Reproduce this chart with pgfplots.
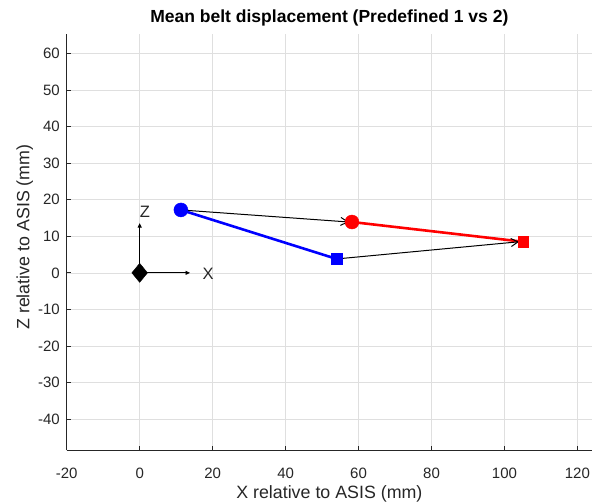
\documentclass[border=0pt]{standalone}
\usepackage{fontspec}
\setmainfont{Liberation Sans}
\usepackage{pgfplots}
\pgfplotsset{compat=1.18}
\usetikzlibrary{arrows.meta,calc}
\definecolor{axgray}{HTML}{262626}
\definecolor{gridgray}{HTML}{DFDFDF}
\definecolor{mblue}{HTML}{0000FF}
\definecolor{mred}{HTML}{FF0000}
\begin{document}
\begin{tikzpicture}
\begin{axis}[
  scale only axis,
  width=525bp, height=416bp,
  xmin=-20, xmax=124, ymin=-48.5, ymax=65.3,
  axis lines*=left,
  xtick={-20,0,...,120},
  ytick={-40,-30,...,60},
  grid=major,
  major grid style={gridgray, line width=0.6bp},
  tick align=inside,
  major tick length=4bp,
  axis line style={axgray, line width=0.7bp},
  tick style={axgray, line width=0.7bp},
  ticklabel style={font=\fontsize{15bp}{17bp}\selectfont, text=axgray, inner sep=0pt},
  /pgf/number format/assume math mode=true,
  xticklabel style={anchor=base, yshift=-28.3bp},
  yticklabel style={anchor=east, xshift=-6.7bp},
  title={\bfseries Mean belt displacement (Predefined 1 vs 2)},
  title style={font=\fontsize{17.5bp}{20bp}\selectfont, inner sep=0pt,
    at={(axis description cs:0.5,1)}, anchor=base, yshift=5.7bp},
  xlabel={X relative to ASIS (mm)},
  ylabel={Z relative to ASIS (mm)},
  label style={font=\fontsize{17.8bp}{20bp}\selectfont, text=axgray, inner sep=0pt},
  xlabel style={at={(axis description cs:0.5,0)}, anchor=base, yshift=-48bp},
  ylabel style={at={(axis description cs:-0.0712,0.512)}, anchor=base, rotate=0},
  clip=false,
]
\coordinate (bl) at (rel axis cs:0,0);
\coordinate (tr) at (rel axis cs:1,1);

% local coordinate frame at the origin
\addplot[black, line width=0.9bp, -{Triangle[length=4.5bp,width=4bp]}] coordinates {(0,0) (13.8,0)};
\addplot[black, line width=0.9bp, -{Triangle[length=4.5bp,width=4bp]}] coordinates {(0,0) (0,13.6)};
\addplot[only marks, mark=diamond*, mark size=9.5bp, mark options={xscale=1.1}, black] coordinates {(0,0)};
\node[anchor=west, inner sep=0pt, font=\fontsize{16.5bp}{19bp}\selectfont, text=axgray] at (axis cs:17.2,-0.4) {X};
\node[anchor=center, inner sep=0pt, font=\fontsize{16.5bp}{19bp}\selectfont, text=axgray] at (axis cs:1.4,16.6) {Z};

% predefined 1 (blue) and predefined 2 (red)
\addplot[mblue, line width=2.6bp] coordinates {(11.3,17.2) (54.0,3.8)};
\addplot[only marks, mark=*, mark size=7bp, mblue] coordinates {(11.3,17.2)};
\addplot[only marks, mark=square*, mark size=5.3bp, mblue] coordinates {(54.0,3.8)};
\addplot[mred, line width=2.6bp] coordinates {(58.2,13.9) (105.1,8.5)};
\addplot[only marks, mark=*, mark size=7bp, mred] coordinates {(58.2,13.9)};
\addplot[only marks, mark=square*, mark size=5.3bp, mred] coordinates {(105.1,8.5)};

% displacement between the two conditions
\addplot[black, line width=1bp, -{Straight Barb[length=7bp,width=8bp]}] coordinates {(11.3,17.2) (57.3,13.9)};
\addplot[black, line width=1bp, -{Straight Barb[length=7bp,width=8bp]}] coordinates {(54.0,3.8) (104.0,8.5)};
\end{axis}
\pgfresetboundingbox
\useasboundingbox ($(bl)+(-66.7bp,-53bp)$) rectangle ($(tr)+(0bp,34bp)$);
\end{tikzpicture}
\end{document}
